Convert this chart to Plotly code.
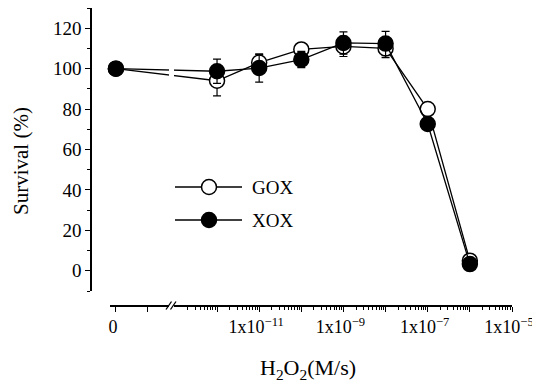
import numpy as np
import plotly.graph_objects as go

# ---------------- data ----------------
conc = [0, 1e-12, 1e-11, 1e-10, 1e-9, 1e-8, 1e-7, 1e-6]          # H2O2 (M/s)
gox = [100, 94, 103, 109.5, 111, 110, 80, 5]                      # Survival (%)
gox_err = [1.5, 7.5, 4, 3, 5, 4.5, 3, 2]
xox = [100, 98.7, 100.3, 104.5, 112.7, 112.4, 72.6, 3.3]
xox_err = [1.5, 6, 7, 4, 5.5, 6, 2.5, 2]

series_names = ["GOX", "XOX"]
y_tick_vals = [0, 20, 40, 60, 80, 100, 120]
x_tick_decades = [-12, -11, -10, -9, -8, -7, -6, -5]
x_tick_labels = {-11: "1x10<sup>\u221211</sup>", -9: "1x10<sup>\u22129</sup>",
                 -7: "1x10<sup>\u22127</sup>", -5: "1x10<sup>\u22125</sup>"}

# ---------------- broken axis: zero placed left of the break ----------------
ZERO_POS = -14.4          # where "0" sits on the log10 scale (left of break)
EXTRA_LEFT_TICK = -13.64  # unlabeled tick on the left segment
xpos = [ZERO_POS if c == 0 else np.log10(c) for c in conc]

FONT = "Liberation Serif"
OFF = 8                      # page body margin of the html page
W, H = 540 - OFF, 388 - OFF
ML, MR, MT, MB = 91 - OFF, 28, 8 - OFF, 82
PW, PH = W - ML - MR, H - MT - MB


def px_x(p):
    """window pixel x -> paper x"""
    return (p - OFF - ML) / PW


def px_y(p):
    """window pixel y -> paper y"""
    return (H - MB - (p - OFF)) / PH


fig = go.Figure()

fig.add_trace(go.Scatter(
    x=xpos, y=gox, name=series_names[0], mode="lines+markers",
    line=dict(color="black", width=1.3),
    marker=dict(symbol="circle", size=15, color="white",
                line=dict(color="black", width=1.5)),
    error_y=dict(type="data", array=gox_err, color="black",
                 thickness=1.2, width=4),
    cliponaxis=False, showlegend=False))

fig.add_trace(go.Scatter(
    x=xpos, y=xox, name=series_names[1], mode="lines+markers",
    line=dict(color="black", width=1.3),
    marker=dict(symbol="circle", size=15, color="black",
                line=dict(color="black", width=1.5)),
    error_y=dict(type="data", array=xox_err, color="black",
                 thickness=1.2, width=4),
    cliponaxis=False, showlegend=False))

# ticks
major_vals = [ZERO_POS, EXTRA_LEFT_TICK] + x_tick_decades
major_text = ["0", ""] + [x_tick_labels.get(d, "") for d in x_tick_decades]
minor_vals = [d + np.log10(k) for d in range(-13, -5) for k in range(2, 10)]

fig.update_layout(
    width=W, height=H,
    margin=dict(l=ML, r=MR, t=MT, b=MB, autoexpand=False),
    paper_bgcolor="white", plot_bgcolor="white",
    font=dict(family=FONT, color="black", size=18),
    xaxis=dict(
        domain=[px_x(110), 1], range=[-14.54, -5.0],
        anchor="free", position=0, automargin=False,
        showline=True, linecolor="black", linewidth=1.5,
        showgrid=False, zeroline=False,
        ticks="outside", ticklen=5, tickwidth=1.2, tickcolor="black",
        tickmode="array", tickvals=major_vals, ticktext=major_text,
        tickfont=dict(family=FONT, size=18, color="black"),
        ticklabeloverflow="allow", ticklabelshift=-3,
        minor=dict(tickmode="array", tickvals=minor_vals, ticks="outside",
                   ticklen=3, tickwidth=1, tickcolor="black", showgrid=False),
    ),
    yaxis=dict(
        domain=[px_y(291), 1], range=[-10, 130],
        anchor="free", position=0, automargin=False,
        showline=True, linecolor="black", linewidth=1.5,
        showgrid=False, zeroline=False,
        ticks="outside", ticklen=5, tickwidth=1.2, tickcolor="black",
        tickmode="array", tickvals=y_tick_vals,
        tickfont=dict(family=FONT, size=19, color="black"),
        minor=dict(tickmode="array", tickvals=list(range(-10, 131, 20)),
                   ticks="outside", ticklen=3, tickwidth=1,
                   tickcolor="black", showgrid=False),
    ),
)

shapes = []
# axis break: white gap + two slashes
shapes.append(dict(type="rect", xref="paper", yref="paper", layer="above",
                   x0=px_x(169), x1=px_x(174), y0=px_y(309), y1=px_y(9),
                   fillcolor="white", line=dict(width=0)))
for dx in (0, 4.5):
    shapes.append(dict(type="line", xref="paper", yref="paper", layer="above",
                       x0=px_x(166 + dx), y0=px_y(309.5),
                       x1=px_x(171.5 + dx), y1=px_y(301.5),
                       line=dict(color="black", width=1.3)))

# legend (drawn to match the long legend lines of the original)
legend_rows = [(187, "white"), (220, "black")]
annotations = []
for (ly, fill), name in zip(legend_rows, series_names):
    shapes.append(dict(type="line", xref="paper", yref="paper", layer="above",
                       x0=px_x(175), x1=px_x(242), y0=px_y(ly), y1=px_y(ly),
                       line=dict(color="black", width=1.3)))
    shapes.append(dict(type="circle", xref="paper", yref="paper", layer="above",
                       xsizemode="pixel", ysizemode="pixel",
                       xanchor=px_x(209), yanchor=px_y(ly),
                       x0=-7.5, x1=7.5, y0=-7.5, y1=7.5,
                       fillcolor=fill, line=dict(color="black", width=1.5)))
    annotations.append(dict(xref="paper", yref="paper", x=px_x(250),
                            y=px_y(ly), xanchor="left", yanchor="middle",
                            text=name, showarrow=False,
                            font=dict(family=FONT, size=19, color="black")))

# axis titles
annotations.append(dict(xref="paper", yref="paper", x=px_x(308), y=px_y(369),
                        xanchor="center", yanchor="middle",
                        text="H<sub>2</sub>O<sub>2</sub>(M/s)", showarrow=False,
                        font=dict(family=FONT, size=22, color="black")))
annotations.append(dict(xref="paper", yref="paper", x=px_x(21), y=px_y(161),
                        xanchor="center", yanchor="middle", textangle=-90,
                        text="Survival (%)", showarrow=False,
                        font=dict(family=FONT, size=21, color="black")))

fig.update_layout(shapes=shapes, annotations=annotations)

fig.write_html("out.html")
